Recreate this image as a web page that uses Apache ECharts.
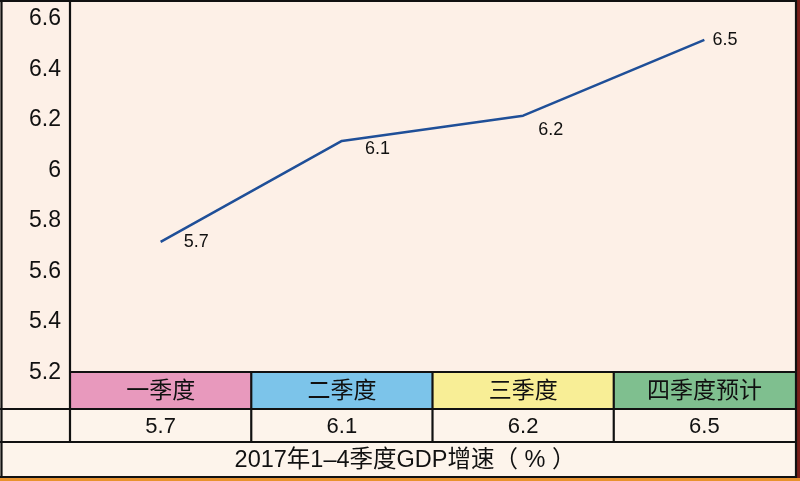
<!DOCTYPE html>
<html>
<head>
<meta charset="utf-8">
<script src="https://cdn.jsdelivr.net/npm/echarts@6/dist/echarts.min.js"></script>
<style>
html,body{margin:0;padding:0;background:#fdf0e7;}
#c{width:800px;height:481px;}
</style>
</head>
<body>
<div id="c"></div>
<script>
var categories = ['一季度', '二季度', '三季度', '四季度预计'];
var values = [5.7, 6.1, 6.2, 6.5];
var yTicks = [5.2, 5.4, 5.6, 5.8, 6, 6.2, 6.4, 6.6];
var tableTitle = '2017年1–4季度GDP增速（ % ）';

var headerColors = ['#e899bd', '#7cc4ea', '#f8ee96', '#7fbf8f'];
var labelOffsets = [[22, 0], [22, 8], [14, 14], [7, 0]];
var numFont = '"Liberation Sans", Arial, Helvetica, sans-serif';
var cjkFont = '"Liberation Sans", "Noto Sans CJK SC", sans-serif';

var chart = echarts.init(document.getElementById('c'), null, {renderer: 'canvas'});

// plot spans y=2..392 (lower 20px hidden under the table header)
var yMin = 5.1058, yMax = 6.65, labelShift = 0.016;

var option = {
  backgroundColor: '#fdf0e7',
  animation: false,
  grid: {left: 70, right: 5, top: 2, bottom: 89, show: false},
  xAxis: {
    type: 'category',
    data: categories,
    boundaryGap: true,
    axisLine: {show: false},
    axisTick: {show: false},
    axisLabel: {show: false},
    splitLine: {show: false}
  },
  yAxis: [{
    type: 'value',
    min: yMin,
    max: yMax,
    axisLine: {show: false},
    axisTick: {show: false},
    splitLine: {show: false},
    axisLabel: {show: false}
  }, {
    type: 'value',
    position: 'left',
    offset: 0,
    min: yMin + labelShift,
    max: yMax + labelShift,
    axisLine: {show: false},
    axisTick: {show: false},
    splitLine: {show: false},
    axisLabel: {
      customValues: yTicks,
      margin: 9,
      color: '#111',
      fontSize: 23,
      fontFamily: numFont,
      formatter: function (v) { return String(Math.round(v * 10) / 10); }
    }
  }],
  series: [{
    type: 'line',
    yAxisIndex: 0,
    data: values.map(function (v, i) {
      return {value: v, label: {offset: labelOffsets[i]}};
    }),
    symbol: 'circle',
    symbolSize: 2,
    showSymbol: true,
    itemStyle: {color: 'rgba(0,0,0,0)'},
    lineStyle: {color: '#1f4f98', width: 2.5},
    label: {
      show: true,
      position: 'right',
      distance: 0,
      color: '#111',
      fontSize: 18,
      fontFamily: numFont
    },
    z: 5
  }]
};
chart.setOption(option);

function buildTable() {
  var els = [];
  var L = 70, R = 795;
  var band = (R - L) / categories.length;
  var rowTop = 372, rowMid = 409, rowBot = 442, outerBot = 477;
  els.push({type: 'rect', shape: {x: 0, y: rowMid, width: 800, height: 481 - rowMid}, style: {fill: '#fdf4eb'}, z: 1});
  categories.forEach(function (c, i) {
    var cx = chart.convertToPixel({xAxisIndex: 0}, c);
    var x0 = L + band * i;
    els.push({type: 'rect', shape: {x: x0, y: rowTop, width: band, height: rowMid - rowTop}, style: {fill: headerColors[i]}, z: 2});
    els.push({type: 'text', x: cx, y: (rowTop + rowMid) / 2 + 1, style: {text: c, fill: '#111', font: '23px ' + cjkFont, align: 'center', verticalAlign: 'middle'}, z: 5});
    els.push({type: 'text', x: cx, y: (rowMid + rowBot) / 2 + 1, style: {text: String(values[i]), fill: '#111', font: '22px ' + numFont, align: 'center', verticalAlign: 'middle'}, z: 5});
  });
  els.push({type: 'text', x: 405, y: (rowBot + outerBot) / 2 + 1, style: {text: tableTitle, fill: '#111', font: '23.5px ' + cjkFont, align: 'center', verticalAlign: 'middle'}, z: 5});
  els.push({type: 'rect', shape: {x: 797, y: 0, width: 3, height: 481}, style: {fill: '#7a1e1a'}, z: 6});
  els.push({type: 'rect', shape: {x: 0, y: 478, width: 800, height: 3}, style: {fill: '#e8922e'}, z: 6});
  var lw = 2.2, col = '#111';
  function line(x1, y1, x2, y2) {
    els.push({type: 'line', shape: {x1: x1, y1: y1, x2: x2, y2: y2}, style: {stroke: col, lineWidth: lw}, z: 8});
  }
  line(1.5, 0, 1.5, outerBot + 1);
  line(0, 1, 797, 1);
  line(796, 0, 796, outerBot + 1);
  line(0, outerBot, 797, outerBot);
  line(L, 0, L, rowBot);
  line(L, rowTop, 797, rowTop);
  line(0, rowMid, 797, rowMid);
  line(0, rowBot, 797, rowBot);
  for (var i = 1; i < categories.length; i++) {
    var x = L + band * i;
    line(x, rowTop, x, rowBot);
  }
  chart.setOption({graphic: {elements: els}});
}
buildTable();
</script>
</body>
</html>
